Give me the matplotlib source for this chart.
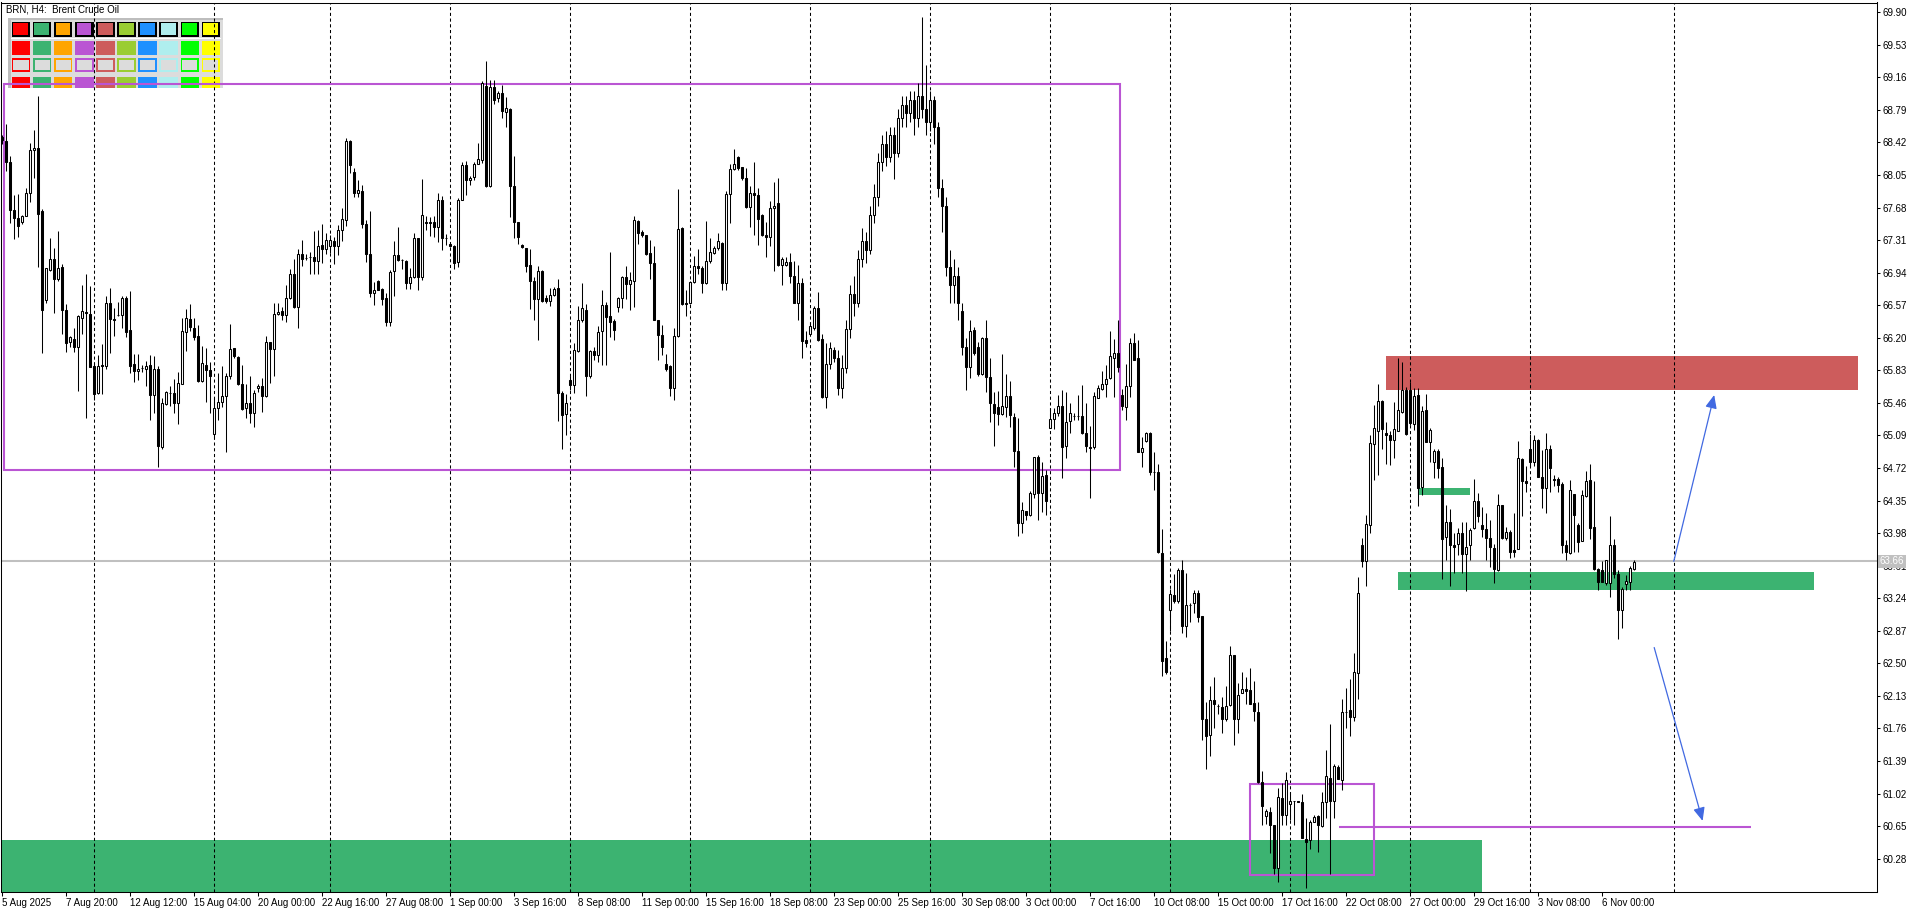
import numpy as np
import matplotlib.pyplot as plt
from matplotlib.patches import Rectangle

# H4 candles, one per bar index
opens = [
    68.48, 68.44, 68.20, 67.65, 67.56, 67.52, 67.58, 67.84, 68.33, 68.36,
    67.64, 66.63, 66.97, 67.09, 66.87, 67.00, 66.52, 66.15, 66.19, 66.10,
    66.43, 66.49, 66.47, 65.88, 65.57, 65.89, 65.88, 66.60, 66.41, 66.46,
    66.46, 66.65, 66.29, 65.90, 65.82, 65.86, 65.84, 65.89, 65.55, 65.85,
    64.96, 65.45, 65.57, 65.57, 65.46, 65.68, 66.26, 66.41, 66.31, 66.22,
    65.71, 65.89, 65.83, 65.11, 65.40, 65.47, 65.54, 65.77, 66.08, 65.98,
    65.68, 65.40, 65.46, 65.35, 65.63, 65.65, 65.54, 66.15, 66.07, 66.47,
    66.50, 66.46, 66.65, 66.92, 66.55, 67.15, 67.11, 67.12, 67.12, 67.07,
    67.25, 67.21, 67.24, 67.30, 67.24, 67.43, 67.54, 68.44, 68.08, 67.84,
    67.87, 67.49, 67.15, 66.71, 66.84, 66.75, 66.65, 66.38, 66.96, 67.14,
    67.08, 67.07, 66.82, 66.89, 67.33, 66.89, 67.52, 67.51, 67.51, 67.46,
    67.77, 67.33, 67.27, 67.24, 67.06, 67.77, 68.16, 67.99, 68.03, 68.18,
    68.22, 69.06, 67.92, 69.05, 68.92, 68.98, 68.77, 68.80, 67.92, 67.52,
    67.25, 67.22, 67.03, 66.85, 66.64, 66.96, 66.65, 66.62, 66.69, 66.76,
    65.57, 65.33, 65.72, 65.66, 66.05, 66.40, 66.52, 65.76, 66.05, 66.00,
    66.28, 66.57, 66.45, 66.39, 66.55, 66.65, 66.89, 66.81, 66.85, 67.53,
    67.40, 67.37, 67.16, 67.05, 66.40, 66.23, 65.90, 65.88, 65.63, 66.22,
    67.45, 66.59, 66.60, 66.83, 67.02, 66.99, 66.82, 67.07, 67.16, 67.22,
    67.28, 66.82, 67.83, 68.12, 68.25, 68.14, 68.01, 67.69, 67.84, 67.82,
    67.60, 67.37, 67.35, 67.67, 67.73, 67.03, 67.03, 67.06, 66.90, 66.60,
    66.82, 66.17, 66.24, 66.31, 66.54, 66.19, 65.53, 65.90, 66.06, 65.97,
    65.63, 65.86, 66.30, 66.70, 66.60, 67.10, 67.30, 67.20, 67.60, 67.80,
    68.20, 68.40, 68.25, 68.50, 68.30, 68.70, 68.85, 68.75, 68.90, 68.70,
    68.95, 68.80, 68.65, 68.90, 68.60, 67.90, 67.70, 67.00, 66.80, 66.90,
    66.50, 66.10, 65.87, 66.29, 66.10, 65.79, 66.20, 65.75, 65.45, 65.41,
    65.33, 65.41, 65.54, 65.30, 64.91, 64.10, 64.23, 64.19, 64.43, 64.84,
    64.44, 64.64, 65.18, 65.28, 65.35, 65.42, 64.97, 65.25, 65.31, 65.31,
    65.31, 65.12, 64.96, 64.96, 65.52, 65.62, 65.67, 65.74, 65.97, 66.03,
    65.55, 65.41, 65.65, 66.14, 65.97, 64.90, 65.03, 65.12, 64.67, 64.67,
    63.75, 62.56, 63.11, 63.28, 63.21, 63.56, 62.92, 63.16, 63.19, 63.30,
    63.04, 61.87, 61.69, 62.08, 62.01, 62.00, 61.87, 62.03, 62.60, 61.87,
    62.16, 62.21, 62.20, 62.05, 61.95, 61.15, 60.77, 60.81, 60.66, 60.17,
    60.97, 60.78, 60.90, 60.94, 60.94, 60.92, 60.50, 60.49, 60.70, 60.76,
    60.65, 60.93, 61.20, 60.94, 61.32, 61.18, 61.95, 61.97, 61.89, 62.39,
    63.85, 63.66, 64.07, 64.99, 65.14, 65.48, 65.12, 65.10, 65.04, 65.14,
    65.36, 65.61, 65.61, 65.22, 65.55, 64.50, 65.38, 65.02, 64.79, 64.91,
    64.73, 63.94, 64.11, 63.85, 63.86, 63.98, 63.74, 63.84, 64.04, 64.34,
    64.07, 64.03, 63.92, 63.81, 63.56, 64.30, 63.93, 63.99, 63.79, 63.80,
    64.82, 64.57, 64.94, 64.79, 65.04, 64.62, 64.49, 64.94, 64.58, 64.60,
    64.54, 63.85, 63.75, 64.42, 64.07, 63.89, 64.40, 64.58, 64.05, 63.57,
    63.56, 63.41, 63.41, 63.84, 63.52, 63.11, 63.40, 63.43, 63.57,
]
highs = [
    68.50, 68.63, 68.27, 67.82, 67.83, 67.60, 67.90, 68.41, 68.56, 68.95,
    67.66, 66.99, 67.33, 67.22, 67.41, 67.04, 66.58, 66.22, 66.31, 66.46,
    66.80, 66.92, 66.79, 65.92, 66.00, 66.13, 66.67, 66.76, 66.54, 66.61,
    66.68, 66.67, 66.73, 66.02, 66.02, 65.89, 65.94, 66.00, 65.99, 65.88,
    65.51, 65.60, 65.65, 65.73, 65.81, 66.43, 66.53, 66.58, 66.43, 66.35,
    66.11, 66.08, 65.93, 65.51, 65.80, 65.88, 65.80, 66.36, 66.08, 65.99,
    65.89, 65.68, 65.77, 65.61, 65.68, 65.74, 66.22, 66.15, 66.59, 66.59,
    66.55, 66.80, 66.98, 67.10, 67.21, 67.31, 67.15, 67.17, 67.41, 67.43,
    67.49, 67.39, 67.37, 67.35, 67.48, 67.68, 68.47, 68.45, 68.13, 67.99,
    67.94, 67.54, 67.64, 66.83, 66.86, 66.76, 66.71, 66.97, 67.30, 67.46,
    67.10, 67.08, 66.99, 67.39, 67.33, 68.00, 67.58, 67.57, 67.58, 67.84,
    67.81, 67.38, 67.29, 67.25, 67.79, 68.20, 68.21, 68.04, 68.20, 68.41,
    69.12, 69.35, 69.13, 69.13, 69.00, 69.07, 68.94, 68.81, 68.26, 67.52,
    67.26, 67.22, 67.21, 66.89, 67.02, 66.97, 66.69, 66.77, 66.78, 66.87,
    65.59, 65.56, 65.76, 66.14, 66.56, 66.82, 66.58, 66.06, 66.10, 66.33,
    66.74, 66.61, 67.17, 66.41, 66.66, 66.90, 67.02, 66.95, 67.58, 67.54,
    67.42, 67.37, 67.31, 67.24, 66.40, 66.34, 66.02, 65.89, 66.31, 67.89,
    67.46, 66.74, 66.84, 67.13, 67.21, 67.01, 67.53, 67.33, 67.24, 67.39,
    67.29, 67.87, 68.18, 68.35, 68.26, 68.14, 68.13, 67.92, 68.20, 67.90,
    67.61, 67.52, 67.75, 67.97, 68.02, 67.12, 67.12, 67.16, 67.07, 67.03,
    66.88, 66.28, 66.38, 66.56, 66.72, 66.24, 66.14, 66.15, 66.10, 66.06,
    66.00, 66.40, 66.80, 66.90, 67.20, 67.45, 67.40, 67.70, 67.95, 68.30,
    68.50, 68.55, 68.60, 68.60, 68.80, 68.95, 68.95, 69.00, 69.00, 69.10,
    69.85, 69.30, 69.00, 68.95, 68.65, 68.00, 67.80, 67.20, 67.10, 67.00,
    66.60, 66.20, 66.40, 66.32, 66.15, 66.21, 66.40, 65.97, 65.58, 65.60,
    66.02, 65.79, 65.71, 65.35, 65.29, 64.33, 64.23, 64.46, 64.85, 64.87,
    64.79, 64.70, 65.40, 65.40, 65.55, 65.61, 65.58, 65.46, 65.35, 65.55,
    65.66, 65.46, 65.20, 65.58, 65.66, 65.82, 65.89, 66.28, 66.19, 66.40,
    65.62, 65.90, 66.20, 66.25, 66.17, 65.07, 65.13, 65.13, 64.90, 64.76,
    64.03, 62.75, 63.35, 63.52, 63.58, 63.67, 63.53, 63.19, 63.33, 63.33,
    63.04, 62.06, 62.24, 62.34, 62.04, 62.12, 62.24, 62.70, 62.60, 62.28,
    62.40, 62.34, 62.45, 62.30, 62.06, 61.28, 60.85, 60.87, 60.66, 61.08,
    61.14, 61.27, 61.04, 60.94, 60.94, 61.02, 60.74, 60.72, 60.78, 60.78,
    61.04, 61.52, 61.81, 61.36, 61.35, 62.10, 62.22, 62.32, 62.62, 63.48,
    63.92, 64.19, 65.09, 65.44, 65.67, 65.49, 65.24, 65.14, 65.47, 65.97,
    65.93, 65.64, 65.70, 65.63, 65.63, 65.42, 65.56, 65.17, 64.94, 64.94,
    64.83, 64.30, 64.25, 63.98, 64.04, 64.11, 64.11, 64.04, 64.60, 64.44,
    64.28, 64.21, 64.13, 63.86, 64.43, 64.30, 64.05, 64.02, 64.21, 65.03,
    64.83, 64.74, 65.11, 65.10, 65.05, 64.92, 65.12, 64.98, 64.64, 64.62,
    64.56, 63.90, 64.58, 64.43, 64.09, 64.47, 64.69, 64.77, 64.57, 63.58,
    63.66, 63.68, 64.17, 63.91, 63.56, 63.37, 63.50, 63.61, 63.68,
]
lows = [
    68.40, 68.09, 67.50, 67.32, 67.34, 67.49, 67.58, 67.74, 68.02, 67.00,
    66.03, 66.59, 66.96, 66.48, 66.84, 66.24, 66.04, 66.10, 66.04, 65.59,
    66.24, 65.29, 65.87, 65.49, 65.56, 65.56, 65.85, 66.03, 66.22, 66.45,
    66.31, 66.21, 65.80, 65.70, 65.72, 65.81, 65.65, 65.27, 65.34, 64.73,
    64.94, 65.44, 65.43, 65.35, 65.22, 65.67, 66.05, 66.28, 66.18, 65.70,
    65.70, 65.47, 65.35, 65.06, 65.26, 65.41, 64.90, 65.73, 65.97, 65.66,
    65.38, 65.29, 65.23, 65.19, 65.58, 65.36, 65.53, 65.69, 65.76, 66.46,
    66.40, 66.38, 66.64, 66.54, 66.31, 67.01, 67.08, 66.93, 66.93, 66.93,
    67.05, 67.15, 67.16, 67.04, 67.14, 67.30, 67.47, 68.07, 67.80, 67.80,
    67.45, 67.06, 66.66, 66.57, 66.74, 66.57, 66.33, 66.33, 66.68, 67.07,
    66.98, 66.75, 66.75, 66.88, 66.74, 66.86, 67.43, 67.36, 67.34, 67.29,
    67.20, 67.25, 67.23, 66.98, 67.00, 67.77, 67.82, 67.94, 67.99, 68.17,
    68.19, 67.91, 67.91, 68.86, 68.88, 68.70, 68.59, 67.57, 67.33, 67.26,
    67.22, 66.95, 66.53, 66.40, 66.18, 66.61, 66.60, 66.56, 66.67, 65.25,
    64.94, 65.10, 65.61, 65.57, 66.04, 66.38, 65.54, 65.74, 65.95, 65.93,
    65.89, 65.89, 66.21, 66.18, 66.49, 66.54, 66.64, 66.52, 66.55, 67.27,
    67.34, 67.14, 66.87, 66.40, 65.95, 66.00, 65.82, 65.54, 65.49, 66.21,
    66.57, 66.45, 66.58, 66.82, 66.93, 66.71, 66.81, 67.05, 67.15, 67.20,
    66.74, 66.74, 67.50, 68.11, 68.11, 67.99, 67.68, 67.46, 67.37, 67.25,
    67.36, 67.12, 67.24, 66.96, 67.02, 66.80, 67.01, 66.82, 66.59, 66.40,
    65.97, 66.10, 66.23, 66.29, 66.16, 65.51, 65.40, 65.85, 65.93, 65.55,
    65.52, 65.80, 66.20, 66.45, 66.55, 67.00, 67.05, 67.15, 67.50, 67.70,
    68.10, 68.15, 68.20, 68.00, 68.25, 68.60, 68.60, 68.65, 68.50, 68.60,
    68.70, 68.50, 68.55, 68.40, 67.80, 67.40, 66.90, 66.60, 66.60, 66.40,
    66.00, 65.61, 65.74, 66.00, 65.77, 65.78, 65.58, 65.24, 64.97, 65.21,
    65.32, 65.30, 65.19, 64.73, 63.95, 63.98, 64.13, 64.18, 64.38, 64.13,
    64.22, 64.19, 65.17, 65.16, 65.31, 64.61, 64.83, 65.12, 65.27, 65.27,
    65.11, 64.90, 64.38, 64.94, 65.51, 65.61, 65.53, 65.73, 65.53, 65.81,
    65.38, 65.26, 65.53, 65.95, 64.90, 64.73, 65.02, 64.64, 64.47, 63.75,
    62.36, 62.38, 62.87, 63.19, 63.19, 62.85, 62.80, 62.97, 63.07, 62.97,
    61.63, 61.30, 61.45, 61.77, 61.93, 61.71, 61.84, 62.02, 61.57, 61.71,
    62.16, 62.04, 62.04, 61.85, 61.14, 60.66, 60.67, 60.35, 60.11, 60.01,
    60.66, 60.66, 60.72, 60.66, 60.92, 60.51, 59.95, 60.39, 60.70, 60.36,
    60.64, 60.74, 60.11, 60.74, 61.19, 61.06, 61.77, 61.67, 61.85, 62.10,
    63.60, 63.38, 63.98, 64.58, 64.64, 64.94, 64.77, 64.75, 64.83, 65.14,
    65.34, 65.10, 65.21, 65.15, 64.29, 64.41, 65.01, 64.79, 64.61, 64.61,
    63.46, 63.67, 63.38, 63.53, 63.73, 63.53, 63.32, 63.68, 64.03, 64.11,
    63.94, 63.68, 63.59, 63.41, 63.55, 63.91, 63.90, 63.70, 63.71, 63.80,
    64.17, 64.45, 64.74, 64.74, 64.62, 64.26, 64.21, 64.45, 64.52, 64.45,
    63.75, 63.68, 63.74, 63.76, 63.76, 63.89, 64.39, 63.91, 63.56, 63.33,
    63.42, 63.39, 63.25, 63.47, 62.78, 62.90, 63.33, 63.33, 63.56,
]
closes = [
    68.45, 68.20, 67.65, 67.56, 67.47, 67.58, 67.84, 68.33, 68.36, 67.61,
    66.51, 66.99, 67.09, 66.87, 66.99, 66.52, 66.14, 66.21, 66.09, 66.45,
    66.50, 66.48, 65.87, 65.56, 65.88, 65.88, 66.60, 66.41, 66.40, 66.46,
    66.65, 66.27, 65.88, 65.82, 65.85, 65.86, 65.88, 65.55, 65.85, 64.97,
    65.46, 65.58, 65.57, 65.46, 65.69, 66.28, 66.43, 66.32, 66.21, 65.71,
    65.91, 65.83, 65.76, 65.40, 65.47, 65.54, 65.77, 66.07, 65.99, 65.67,
    65.39, 65.46, 65.35, 65.57, 65.65, 65.54, 66.15, 66.07, 66.47, 66.49,
    66.46, 66.65, 66.92, 66.55, 67.15, 67.10, 67.11, 67.12, 67.07, 67.24,
    67.21, 67.31, 67.31, 67.24, 67.43, 67.55, 68.44, 68.16, 67.84, 67.88,
    67.49, 67.15, 66.71, 66.74, 66.74, 66.64, 66.38, 66.95, 67.14, 67.08,
    67.08, 66.82, 66.89, 67.33, 66.89, 67.59, 67.50, 67.50, 67.46, 67.77,
    67.33, 67.33, 67.24, 67.05, 67.77, 68.16, 67.99, 68.02, 68.18, 68.23,
    69.09, 67.92, 69.05, 68.90, 68.98, 68.78, 68.81, 67.92, 67.51, 67.35,
    67.23, 67.02, 66.84, 66.64, 66.96, 66.62, 66.62, 66.69, 66.75, 65.57,
    65.32, 65.46, 65.66, 66.06, 66.40, 66.54, 65.76, 66.05, 66.00, 66.27,
    66.57, 66.44, 66.38, 66.29, 66.65, 66.89, 66.81, 66.86, 67.54, 67.39,
    67.37, 67.15, 67.05, 66.40, 66.23, 66.09, 65.85, 65.63, 66.22, 67.44,
    66.58, 66.58, 66.83, 67.02, 66.99, 66.82, 67.07, 67.18, 67.22, 67.30,
    66.82, 67.83, 68.12, 68.17, 68.13, 68.01, 67.69, 67.84, 67.82, 67.55,
    67.37, 67.35, 67.68, 67.70, 67.03, 67.09, 67.06, 66.90, 66.60, 66.82,
    66.16, 66.14, 66.33, 66.54, 66.18, 65.53, 65.90, 66.08, 65.97, 65.63,
    65.86, 66.30, 66.70, 66.60, 67.10, 67.30, 67.20, 67.60, 67.80, 68.20,
    68.40, 68.25, 68.50, 68.30, 68.70, 68.85, 68.75, 68.90, 68.70, 68.95,
    68.80, 68.65, 68.90, 68.60, 67.90, 67.70, 67.00, 66.80, 66.90, 66.60,
    66.10, 65.87, 66.28, 66.03, 65.79, 66.20, 65.75, 65.46, 65.35, 65.33,
    65.42, 65.54, 65.32, 64.91, 64.10, 64.24, 64.19, 64.44, 64.84, 64.44,
    64.63, 64.34, 65.28, 65.35, 65.42, 64.96, 65.24, 65.35, 65.31, 65.31,
    65.12, 64.97, 64.95, 65.54, 65.63, 65.67, 65.73, 65.99, 66.03, 65.87,
    65.42, 65.65, 66.14, 65.95, 64.90, 64.95, 65.12, 64.67, 64.67, 63.76,
    62.53, 62.40, 63.29, 63.21, 63.56, 62.93, 63.16, 63.16, 63.30, 63.03,
    61.87, 61.68, 62.08, 62.04, 62.01, 61.87, 62.02, 62.60, 61.87, 62.14,
    62.21, 62.19, 62.04, 61.96, 61.15, 60.88, 60.82, 60.66, 60.17, 60.98,
    60.78, 61.17, 60.94, 60.94, 60.92, 60.52, 60.47, 60.70, 60.75, 60.66,
    60.93, 61.22, 60.94, 61.33, 61.19, 61.95, 61.95, 61.89, 62.40, 63.30,
    63.66, 64.08, 65.00, 65.18, 65.48, 65.16, 65.10, 65.04, 65.16, 65.38,
    65.61, 65.11, 65.23, 65.54, 64.49, 65.37, 65.02, 65.15, 64.91, 64.72,
    63.91, 64.11, 63.85, 63.82, 63.98, 63.74, 63.82, 64.02, 64.35, 64.17,
    64.03, 63.92, 63.82, 63.57, 64.30, 63.93, 63.99, 63.76, 63.77, 64.83,
    64.57, 64.55, 64.79, 65.04, 64.62, 64.49, 64.94, 64.72, 64.60, 64.53,
    63.85, 63.76, 64.47, 64.19, 63.88, 64.41, 64.57, 64.04, 63.57, 63.42,
    63.42, 63.68, 63.84, 63.52, 63.11, 63.34, 63.44, 63.58, 63.65,
]

price_ticks = [69.90, 69.53, 69.16, 68.79, 68.42, 68.05, 67.68, 67.31, 66.94,
               66.57, 66.20, 65.83, 65.46, 65.09, 64.72, 64.35, 63.98, 63.61,
               63.24, 62.87, 62.50, 62.13, 61.76, 61.39, 61.02, 60.65, 60.28]
date_labels = ['5 Aug 2025', '7 Aug 20:00', '12 Aug 12:00', '15 Aug 04:00',
               '20 Aug 00:00', '22 Aug 16:00', '27 Aug 08:00', '1 Sep 00:00',
               '3 Sep 16:00', '8 Sep 08:00', '11 Sep 00:00', '15 Sep 16:00',
               '18 Sep 08:00', '23 Sep 00:00', '25 Sep 16:00', '30 Sep 08:00',
               '3 Oct 00:00', '7 Oct 16:00', '10 Oct 08:00', '15 Oct 00:00',
               '17 Oct 16:00', '22 Oct 08:00', '27 Oct 00:00', '29 Oct 16:00',
               '3 Nov 08:00', '6 Nov 00:00']
date_bars = [16 * k for k in range(len(date_labels))]
week_bars = [23, 53, 82, 112, 142, 172, 202, 232, 262, 292, 322, 352, 382, 418]
bid, ask = 63.66, 63.68

# drawn objects: (bar from, bar to, price low, price high)
resistance = (346, 464, 65.61, 65.99)
support = (349, 453, 63.33, 63.54)
minor_support = (354.3, 367.1, 64.41, 64.49)
demand = (-3, 370, 59.0, 60.49)
range_box = (0.5, 279.5, 64.70, 69.08)
base_box = (312.0, 343.1, 60.10, 61.13)
target_line = (334.3, 437.2, 60.645)
up_path = [(418, 63.66), (428.1, 65.55)]
down_path = [(413.1, 62.68), (425.2, 60.71)]
palette = ['#ff0000', '#3cb371', '#ffa500', '#ba55d3', '#cd5c5c',
           '#9acd32', '#1e90ff', '#afeeee', '#00ff00', '#ffff00']

W, H = 1920, 915
plt.rcParams['font.family'] = ['Liberation Sans', 'DejaVu Sans']
fig = plt.figure(figsize=(W / 100, H / 100), dpi=100)
ax = fig.add_axes([1 / W, (H - 892) / H, 1876.5 / W, 889.5 / H])
ax.set_xlim(-0.2, 468.925)
ax.set_ylim(59.902, 70.010)

n = min(len(opens), len(highs), len(lows), len(closes))
x = np.arange(n)
o = np.array(opens[:n])
h = np.array(highs[:n])
l = np.array(lows[:n])
c = np.array(closes[:n])
up = c >= o

ax.vlines(x, l, h, color='black', linewidth=0.75, zorder=3)
ax.bar(x[up], (c - o)[up], bottom=o[up], width=0.5, facecolor='white',
       edgecolor='black', linewidth=0.75, zorder=4)
ax.bar(x[~up], (o - c)[~up], bottom=c[~up], width=0.5, facecolor='black',
       edgecolor='black', linewidth=0.75, zorder=4)

for b in week_bars:
    ax.axvline(b, color='black', linewidth=0.75, linestyle=(0, (3, 2.5)), zorder=1.5)


def zone(z, color):
    ax.add_patch(Rectangle((z[0], z[2]), z[1] - z[0], z[3] - z[2],
                           facecolor=color, edgecolor='none', zorder=1))


zone(resistance, '#cd5c5c')
zone(support, '#3cb371')
zone(minor_support, '#3cb371')
zone(demand, '#3cb371')

for bx in (range_box, base_box):
    ax.add_patch(Rectangle((bx[0], bx[2]), bx[1] - bx[0], bx[3] - bx[2],
                           fill=False, edgecolor='#ba55d3', linewidth=1.5, zorder=2))
ax.hlines(target_line[2], target_line[0], target_line[1], color='#ba55d3',
          linewidth=1.5, zorder=2)

for path in (up_path, down_path):
    ax.annotate('', xy=path[1], xytext=path[0],
                arrowprops=dict(arrowstyle='-|>,head_length=0.8,head_width=0.35',
                                color='#4169e1', lw=0.9, shrinkA=0, shrinkB=0),
                zorder=5)

ax.axhline(bid, color='#c0c0c0', linewidth=0.75, zorder=2)
ax.axhline(ask, color='#c0c0c0', linewidth=0.75, zorder=2)

# axes and ticks
for sp in ax.spines.values():
    sp.set_color('black')
    sp.set_linewidth(0.75)
ax.yaxis.tick_right()
ax.set_yticks(price_ticks)
ax.set_yticklabels([f'{p:.2f}' for p in price_ticks])
ax.tick_params(axis='y', direction='out', length=2.5, width=0.75, pad=1, labelsize=7)
ax.set_xticks(date_bars)
ax.set_xticklabels(date_labels)
for t in ax.get_xticklabels():
    t.set_ha('left')
ax.tick_params(axis='x', direction='out', length=3, width=0.75, pad=1.5, labelsize=7)

# current bid label sits on top of the nearest price label, as in the terminal
ax.annotate(f'{bid:.2f}', xy=(1, bid), xycoords=('axes fraction', 'data'),
            xytext=(1.6, 0), textcoords='offset points', va='center', ha='left',
            fontsize=7, color='white', annotation_clip=False, zorder=10,
            bbox=dict(boxstyle='square,pad=0.15', fc='#c0c0c0', ec='none'))


# colour panel in the top-left corner (pixel coords from the top-left)
def px_rect(x0, y0, w, hgt, color, z=1.2):
    ax.add_patch(Rectangle((x0 / W, 1 - (y0 + hgt) / H), w / W, hgt / H,
                           transform=fig.transFigure, facecolor=color,
                           edgecolor='none', clip_on=False, zorder=z))


px_rect(8.3, 17.7, 214.4, 70.3, '#dcdcdc')
px_rect(8.3, 17.7, 214.4, 2.3, '#bdbdbd')
px_rect(8.3, 17.7, 2.3, 70.3, '#bdbdbd')
px_rect(10.6, 38.2, 210, 1, 'white')
for k, col in enumerate(palette):
    x0 = 11.7 + 21.1 * k
    px_rect(x0, 21.7, 18.5, 15, 'black')
    px_rect(x0 + 1.6, 23.1, 14.8, 11.6, col)
    px_rect(x0, 40.7, 18.5, 14.3, col)
    px_rect(x0, 58.3, 18.5, 13.7, col)
    px_rect(x0 + 1.7, 60.0, 15.1, 10.3, '#dcdcdc')
    px_rect(x0, 76.7, 18.5, 11.3, col)

fig.text(6.5 / W, 1 - 9 / H, 'BRN, H4:  Brent Crude Oil', fontsize=7,
         va='center', ha='left')

fig.savefig('out.png', dpi=100, facecolor='white')
